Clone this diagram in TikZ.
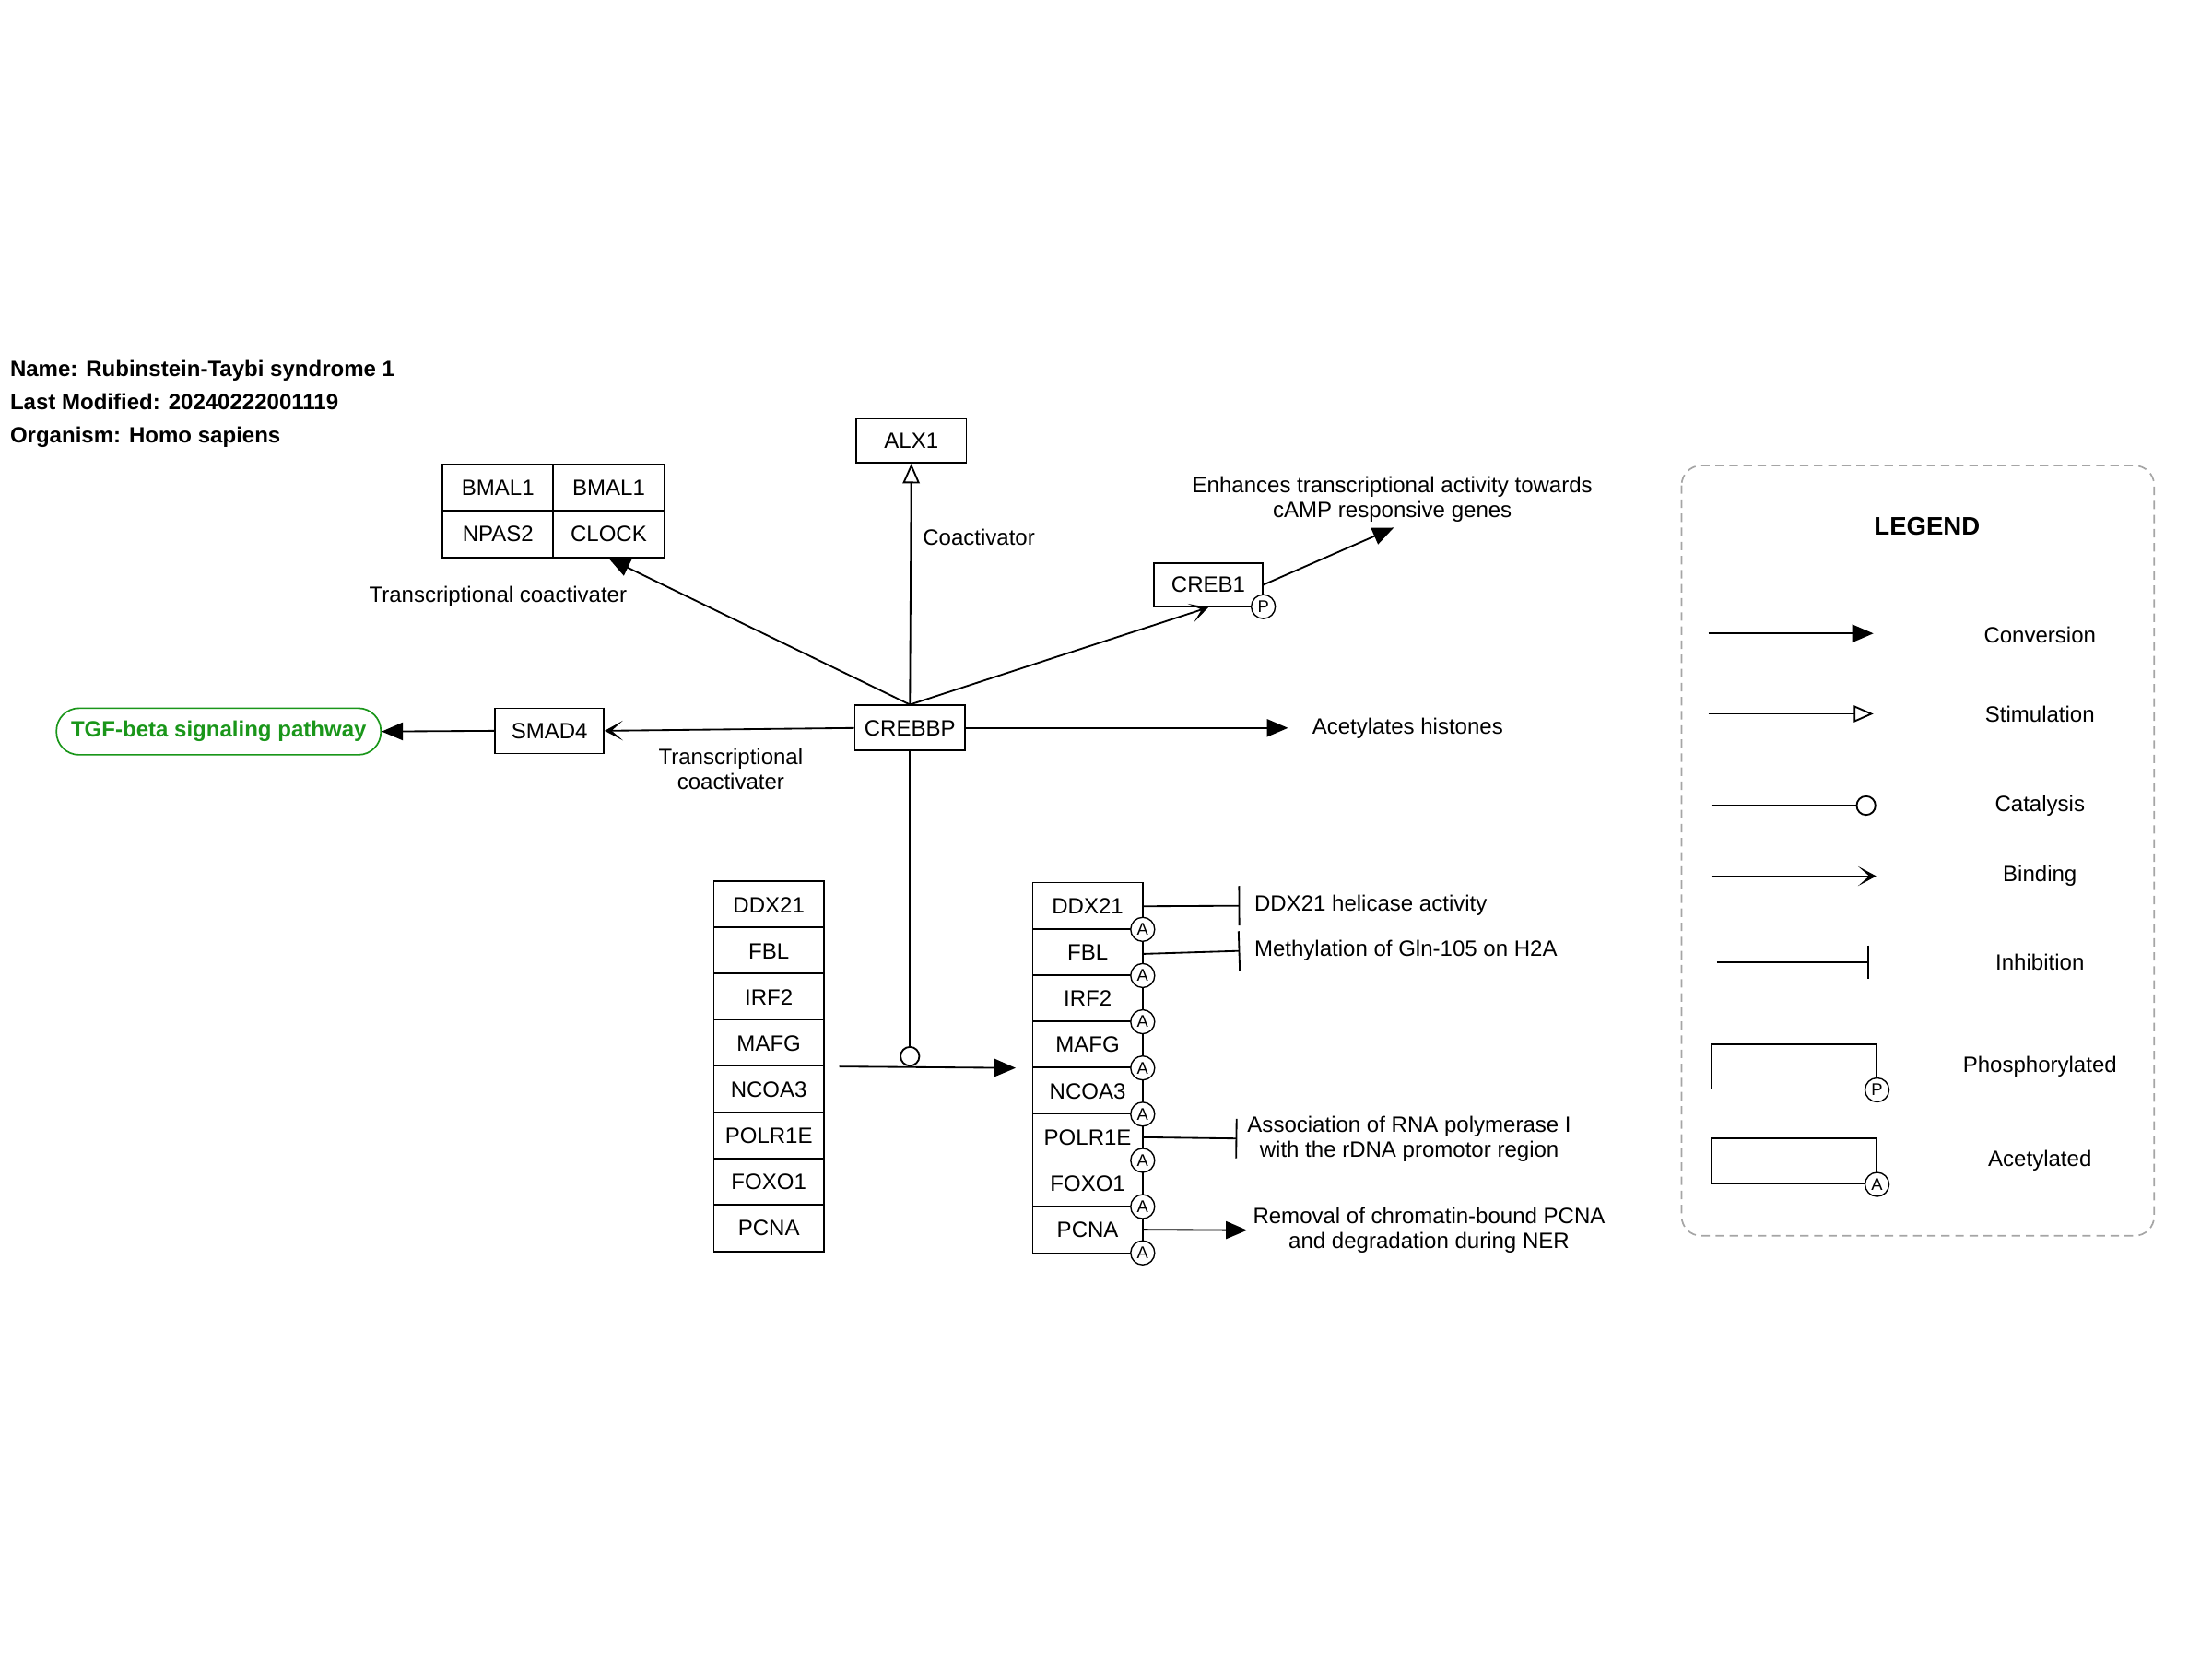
\documentclass[tikz,border=0pt]{standalone}
\usepackage{fontspec}
\setmainfont{Liberation Sans}
\usetikzlibrary{arrows.meta}
\definecolor{pwgreen}{RGB}{26,150,26}
\definecolor{leggray}{RGB}{165,165,165}
\begin{document}
\begin{tikzpicture}[x=1pt,y=-1pt,
  font=\fontsize{15.7}{18}\selectfont,
  gbox/.style={draw, line width=1.1pt, fill=white, inner sep=0pt, minimum width=78pt, minimum height=32pt},
  cell/.style={gbox, minimum height=33.5pt},
  modc/.style={circle, draw, line width=0.9pt, fill=white, inner sep=0pt, minimum size=17pt, font=\fontsize{12}{12}\selectfont},
  edge/.style={line width=1.2pt},
  conv/.style={edge, -{Triangle[length=15pt,width=12.5pt]}},
  stim/.style={edge, -{Triangle[open,length=14pt,width=12pt,fill=white,line width=1.2pt]}},
  bind/.style={edge, -{Stealth[length=13pt,width=14pt,inset=8pt]}},
  cata/.style={edge, -{Circle[open,length=14.5pt,fill=white]}},
  inhib/.style={edge, -{Bar[width=28pt]}},
  lbl/.style={inner sep=0pt, align=center},
  hdr/.style={inner sep=0pt, anchor=base west, font=\fontsize{15.7}{18}\selectfont\bfseries}
]
\useasboundingbox (0,0) rectangle (1568,1176);

% header
\node[hdr] (h1) at (7,266.6) {Name: Rubinstein-Taybi syndrome 1};
\node[hdr] (h2) at (7,290.6) {Last Modified: 20240222001119};
\node[hdr] (h3) at (7,313.6) {Organism: Homo sapiens};

% complex
\node[cell, minimum width=79pt] (bm1) at (353,346) {BMAL1};
\node[cell, minimum width=79pt] (bm2) at (431.5,346) {BMAL1};
\node[cell, minimum width=79pt] (npas) at (353,378.5) {NPAS2};
\node[cell, minimum width=79pt] (clock) at (431.5,378.5) {CLOCK};

% single nodes
\node[gbox, minimum height=31pt] (alx1) at (646,312.5) {ALX1};
\node[gbox, minimum width=77pt, minimum height=31pt] (creb1) at (856.5,414.5) {CREB1};
\node[modc] (pm) at (895.5,430) {P};
\node[gbox] (crebbp) at (645,516) {CREBBP};
\node[gbox, minimum width=77pt] (smad4) at (389.5,518) {SMAD4};
\node[draw=pwgreen, line width=1.1pt, rounded corners=16pt, minimum width=230pt, minimum height=33pt,
      inner sep=0pt, text=pwgreen, font=\fontsize{15.7}{18}\selectfont\bfseries] (tgf) at (155,518.5) {TGF-beta signaling pathway};

% stacks
\foreach \n [count=\i from 0] in {DDX21,FBL,IRF2,MAFG,NCOA3,POLR1E,FOXO1,PCNA} {
  \node[cell] (l\i) at (545,{625+32.75*(\i+0.5)}) {\n};
  \node[cell] (r\i) at (771,{626+32.75*(\i+0.5)}) {\n};
}
\foreach \i in {0,...,7} {
  \node[modc] (a\i) at (810,{626+32.75*(\i+1)}) {A};
}

% edges from CREBBP
\draw[stim] (crebbp.north) -- (alx1.south);
\draw[conv] (crebbp.north) -- (clock.south);
\draw[bind] (crebbp.north) -- (creb1.south);
\coordinate (camp) at (988,374);
\draw[conv] (creb1.east) -- (camp);
\draw[bind] (crebbp.west) -- (smad4.east);
\draw[conv] (smad4.west) -- (tgf.east);
\coordinate (acet) at (913,516);
\draw[conv] (crebbp.east) -- (acet);
\coordinate (catend) at (645,756);
\draw[cata] (crebbp.south) -- (catend);
\coordinate (rxs) at (595,756);
\coordinate (rxe) at (720,757);
\draw[conv] (rxs) -- (rxe);

% outputs of right stack
\coordinate (i0) at (879,642);
\coordinate (i1) at (879,674);
\coordinate (i5) at (877,807);
\coordinate (c7) at (884,872);
\draw[inhib] (r0.east) -- (i0);
\draw[inhib] ([yshift=-1pt]r1.east) -- (i1);
\draw[inhib] (r5.east) -- (i5);
\draw[conv] (r7.east) -- (c7);

% labels
\node[lbl, anchor=west] (t1) at (654,381) {Coactivator};
\node[lbl] (t2) at (353,423) {Transcriptional coactivater};
\node[lbl] (t3) at (987,354) {Enhances transcriptional activity towards\\cAMP responsive genes};
\node[lbl, anchor=west] (t4) at (930,516) {Acetylates histones};
\node[lbl] (t5) at (518,545) {Transcriptional\\coactivater};
\node[lbl, anchor=west] (t6) at (889,642) {DDX21 helicase activity};
\node[lbl, anchor=west] (t7) at (889,674) {Methylation of Gln-105 on H2A};
\node[lbl] (t8) at (999,807.5) {Association of RNA polymerase I\\with the rDNA promotor region};
\node[lbl] (t9) at (1013,872) {Removal of chromatin-bound PCNA\\and degradation during NER};

% legend
\draw[leggray, line width=1.1pt, dash pattern=on 6pt off 4pt, rounded corners=14pt] (1192,330) rectangle (1527,876);
\node[lbl, font=\fontsize{18}{20}\selectfont\bfseries] (lg) at (1366,373) {LEGEND};
\coordinate (c1a) at (1211,449); \coordinate (c1b) at (1328,449);
\draw[conv] (c1a) -- (c1b);
\node[lbl] (lt1) at (1446,450) {Conversion};
\coordinate (c2a) at (1211,506); \coordinate (c2b) at (1328,506);
\draw[stim] (c2a) -- (c2b);
\node[lbl] (lt2) at (1446,506) {Stimulation};
\coordinate (c3a) at (1213,571); \coordinate (c3b) at (1330,571);
\draw[cata] (c3a) -- (c3b);
\node[lbl] (lt3) at (1446,571) {Catalysis};
\coordinate (c4a) at (1213,621); \coordinate (c4b) at (1330,621);
\draw[bind] (c4a) -- (c4b);
\node[lbl] (lt4) at (1446,621) {Binding};
\coordinate (c5a) at (1217,682); \coordinate (c5b) at (1325,682);
\draw[edge, -{Bar[width=24pt]}] (c5a) -- (c5b);
\node[lbl] (lt5) at (1446,682) {Inhibition};
\node[draw, line width=1.1pt, inner sep=0pt, minimum width=117pt, minimum height=32pt] (lp) at (1271.5,756) {};
\node[modc] (lpm) at (lp.south east) {P};
\node[lbl] (lt6) at (1446,756) {Phosphorylated};
\node[draw, line width=1.1pt, inner sep=0pt, minimum width=117pt, minimum height=32pt] (la) at (1271.5,823) {};
\node[modc] (lam) at (la.south east) {A};
\node[lbl] (lt7) at (1446,823) {Acetylated};
\end{tikzpicture}
\end{document}
